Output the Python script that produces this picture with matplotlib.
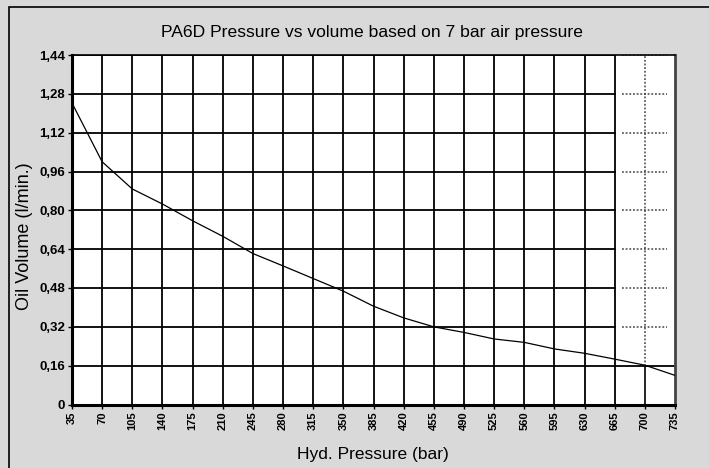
import matplotlib.pyplot as plt
from matplotlib.patches import Rectangle
from matplotlib.ticker import FixedLocator

pressure = [35, 70, 105, 140, 175, 210, 245, 280, 315, 350, 385, 420,
            455, 490, 525, 560, 595, 630, 665, 700, 735]
volume = [1.242, 1.00, 0.888, 0.826, 0.757, 0.693, 0.622, 0.571, 0.519, 0.467,
          0.405, 0.357, 0.320, 0.297, 0.270, 0.256, 0.229, 0.211, 0.187, 0.162, 0.120]
y_ticks = [0, 0.16, 0.32, 0.48, 0.64, 0.80, 0.96, 1.12, 1.28, 1.44]
y_labels = ['0', '0,16', '0,32', '0,48', '0,64', '0,80', '0,96', '1,12', '1,28', '1,44']

plt.rcParams['font.family'] = ['Liberation Sans', 'DejaVu Sans']

fig = plt.figure(figsize=(7.09, 4.68), dpi=100)
fig.patch.set_facecolor('#d9d9d9')
fig.patches.append(Rectangle((9 / 709, -0.05), 1.1, 1 - 7 / 468 + 0.05,
                             transform=fig.transFigure, fill=False,
                             edgecolor='black', linewidth=1.2))

ax = fig.add_axes([72 / 709, 1 - 404.5 / 468, 603 / 709, 349.5 / 468])
ax.set_facecolor('white')

dots = (0, (1.2, 1.2))
# grid: solid up to 665, dotted in the last two columns above 0.16
for y in y_ticks[1:]:
    if y == 0.16:
        ax.plot([35, 735], [y, y], color='black', linewidth=1.3, zorder=1)
    else:
        ax.plot([35, 665], [y, y], color='black', linewidth=1.3, zorder=1)
        ax.plot([674, 726], [y, y], color='#444444', linewidth=1.1,
                linestyle=dots, zorder=1)
for x in pressure[1:-2]:
    ax.axvline(x, color='black', linewidth=1.3, zorder=1)
ax.plot([700, 700], [0, 0.16], color='black', linewidth=1.2, zorder=1)
ax.plot([700, 700], [0.16, 1.44], color='#444444', linewidth=1.1, linestyle=dots, zorder=1)

ax.plot(pressure, volume, color='black', linewidth=0.9, zorder=3)

ax.set_xlim(35, 735)
ax.set_ylim(0, 1.44)
ax.xaxis.set_major_locator(FixedLocator(pressure))
ax.set_xticklabels([str(p) for p in pressure], rotation=90, fontsize=8, fontweight='bold')
ax.set_yticks(y_ticks)
ax.set_yticklabels(y_labels, fontsize=9.5, fontweight='bold')
ax.tick_params(axis='both', length=3, width=1, color='black', pad=2)

ax.spines['left'].set_linewidth(2.2)
ax.spines['bottom'].set_linewidth(2.2)
ax.spines['top'].set_linewidth(1.2)
ax.spines['right'].set_linewidth(2)
ax.spines['right'].set_color('#444444')

fig.text(372 / 709, 1 - 33 / 468, 'PA6D Pressure vs volume based on 7 bar air pressure',
         ha='center', va='center', fontsize=12.6)
fig.text(373 / 709, 1 - 455 / 468, 'Hyd. Pressure (bar)',
         ha='center', va='center', fontsize=12.5)
fig.text(25 / 709, 1 - 236 / 468, 'Oil Volume (l/min.)', rotation=90,
         ha='center', va='center', fontsize=13)

fig.savefig('out.png', dpi=100, facecolor=fig.get_facecolor())
